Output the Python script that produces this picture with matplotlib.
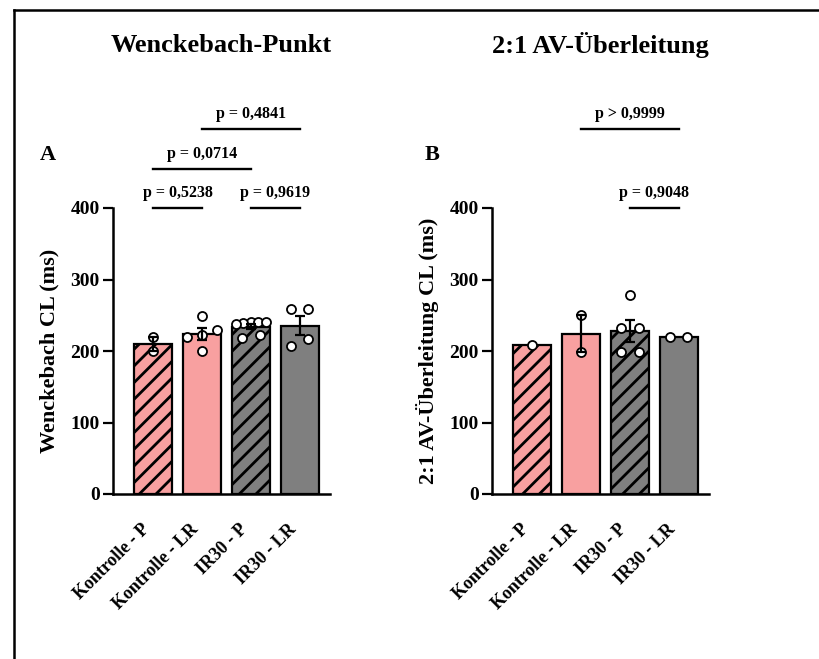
import numpy as np
import matplotlib
matplotlib.use("Agg")
import matplotlib.pyplot as plt
from matplotlib.lines import Line2D

plt.rcParams['font.family'] = ['Liberation Serif', 'DejaVu Serif']
plt.rcParams['font.weight'] = 'bold'
plt.rcParams['hatch.linewidth'] = 2.0

groups = ["Kontrolle - P", "Kontrolle - LR", "IR30 - P", "IR30 - LR"]
bar_colors = ["#F8A0A0", "#F8A0A0", "#7F7F7F", "#7F7F7F"]
bar_hatches = ["//", "", "//", ""]

# single animals per group (ms)
wenckebach_cl = [
    [220, 200],
    [200, 219, 222, 230, 249],
    [240, 240, 239, 241, 238, 222, 218],
    [259, 259, 207, 217],
]
av_block_cl = [
    [209],
    [250, 198],
    [279, 232, 232, 198, 198],
    [220, 220],
]

# (group a, group b, bracket height, label)
wenckebach_tests = [
    (0, 1, 400, "p = 0,5238"),
    (2, 3, 400, "p = 0,9619"),
    (0, 2, 455, "p = 0,0714"),
    (1, 3, 510, "p = 0,4841"),
]
av_block_tests = [
    (2, 3, 400, "p = 0,9048"),
    (1, 3, 510, "p > 0,9999"),
]

W, H = 819, 659


def spread(values, tol=12, max_step=0.36, max_width=0.62):
    # push points with similar values apart horizontally
    v = np.asarray(values, float)
    order = np.argsort(v, kind="stable")
    sv = v[order]
    clusters, cur = [], [0]
    for k in range(1, len(sv)):
        if sv[k] - sv[k - 1] < tol:
            cur.append(k)
        else:
            clusters.append(cur)
            cur = [k]
    clusters.append(cur)
    offs = np.zeros(len(sv))
    for c in clusters:
        n = len(c)
        if n > 1:
            step = min(max_step, max_width / (n - 1))
            for m, k in enumerate(c):
                offs[k] = (m - (n - 1) / 2) * step
    out = np.zeros(len(v))
    out[order] = offs
    return out


def draw_panel(ax, data, tests, ylabel):
    x = np.arange(len(groups))
    means = [np.mean(d) for d in data]
    sems = [np.std(d, ddof=1) / np.sqrt(len(d)) if len(d) > 1 else 0.0 for d in data]

    bars = ax.bar(x, means, width=0.78, color=bar_colors, edgecolor="black",
                  linewidth=1.6, zorder=1)
    for b, h in zip(bars, bar_hatches):
        b.set_hatch(h)

    for i, d in enumerate(data):
        ax.plot(x[i] + spread(d), d, "o", mfc="white", mec="black", ms=6.5,
                mew=1.3, zorder=3, clip_on=False)
        if len(d) > 1 and sems[i] > 0:
            ax.errorbar(x[i], means[i], yerr=sems[i], fmt="none", ecolor="black",
                        elinewidth=1.6, capsize=3.5, capthick=1.6, zorder=4)

    for a, b, level, label in tests:
        ax.plot([a, b], [level, level], color="black", lw=1.7, clip_on=False)
        ax.annotate(label, xy=((a + b) / 2, level), xytext=(0, 8),
                    textcoords="offset points", ha="center", va="baseline",
                    fontsize=11.5, fontweight="bold", annotation_clip=False)

    ax.set_xlim(-0.82, 3.62)
    ax.set_ylim(0, 400)
    ax.set_yticks(np.arange(0, 401, 100))
    ax.set_xticks(x)
    ax.set_xticklabels(groups, rotation=45, ha="right", fontsize=13, fontweight="bold")
    for s in ("top", "right"):
        ax.spines[s].set_visible(False)
    for s in ("left", "bottom"):
        ax.spines[s].set_linewidth(1.8)
    ax.tick_params(axis="y", length=7.5, width=1.6, labelsize=14, pad=2)
    ax.tick_params(axis="x", length=0, pad=19)
    ax.set_ylabel(ylabel, fontsize=16, fontweight="bold")
    ax.yaxis.set_label_coords(-0.245, 0.5)


fig = plt.figure(figsize=(W / 100, H / 100), dpi=100)
ax_a = fig.add_axes([113 / W, 1 - 494 / H, 217 / W, 286 / H])
ax_b = fig.add_axes([492 / W, 1 - 494 / H, 217 / W, 286 / H])

draw_panel(ax_a, wenckebach_cl, wenckebach_tests, "Wenckebach CL (ms)")
draw_panel(ax_b, av_block_cl, av_block_tests, "2:1 AV-Überleitung CL (ms)")

fig.text((113 + 330) / 2 / W, 1 - 45 / H, "Wenckebach-Punkt", ha="center", va="center",
         fontsize=19, fontweight="bold")
fig.text((492 + 709) / 2 / W, 1 - 45 / H, "2:1 AV-Überleitung", ha="center", va="center",
         fontsize=19, fontweight="bold")
fig.text(48 / W, 1 - 155 / H, "A", ha="center", va="center", fontsize=16, fontweight="bold")
fig.text(432 / W, 1 - 155 / H, "B", ha="center", va="center", fontsize=16, fontweight="bold")

# frame lines along the left and top edge
fx, fy = 13.5 / W, 1 - 9.5 / H
fig.add_artist(Line2D([fx, fx], [0, fy], transform=fig.transFigure, color="black", lw=1.8))
fig.add_artist(Line2D([fx, 1], [fy, fy], transform=fig.transFigure, color="black", lw=1.8))

fig.savefig("out.png", dpi=100)
